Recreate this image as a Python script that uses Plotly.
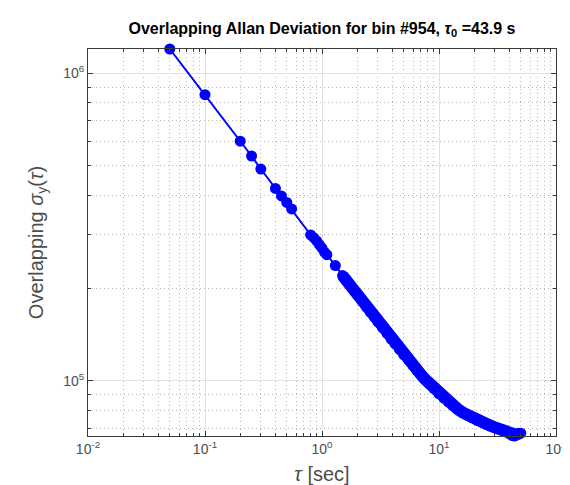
import plotly.graph_objects as go
import numpy as np

# tau values [sec] - individually visible markers
tau_sparse = [0.05, 0.1, 0.2, 0.25, 0.3, 0.4, 0.45, 0.5, 0.55,
              0.8, 0.85, 0.9, 0.95, 1.0, 1.05, 1.1, 1.3]
adev_sparse = [1.198e6, 8.51e5, 6.01e5, 5.38e5, 4.88e5, 4.22e5, 3.99e5, 3.80e5, 3.62e5,
               2.98e5, 2.92e5, 2.85e5, 2.77e5, 2.70e5, 2.62e5, 2.57e5, 2.37e5]

# dense region (markers overlap into a thick band)
tau_dense = [1.5, 1.6, 1.7, 1.8, 1.9, 2.0, 2.2, 2.4, 2.6, 2.8, 3.0, 3.3, 3.6, 3.9, 4.2,
             4.6, 5.0, 5.5, 6.0, 6.5, 7.0, 7.6, 8.2, 9.0, 10, 11, 12, 13, 14.5, 16,
             17.5, 19, 21, 23, 25, 27.5, 30, 33, 36, 39, 42, 44, 46, 48, 50]
adev_dense = [2.198e5, 2.128e5, 2.065e5, 2.007e5, 1.952e5, 1.903e5, 1.816e5, 1.738e5,
              1.669e5, 1.611e5, 1.556e5, 1.486e5, 1.426e5, 1.368e5, 1.321e5, 1.265e5,
              1.216e5, 1.167e5, 1.122e5, 1.081e5, 1.049e5, 1.012e5, 9.82e4, 9.46e4,
              9.08e4, 8.79e4, 8.55e4, 8.34e4, 8.09e4, 7.89e4, 7.73e4, 7.59e4, 7.45e4,
              7.35e4, 7.24e4, 7.15e4, 7.06e4, 6.97e4, 6.86e4, 6.77e4, 6.65e4, 6.62e4,
              6.67e4, 6.72e4, 6.76e4]

x_tickvals = [0.01, 0.1, 1, 10, 100]
x_ticktext = ["10<sup>-2</sup>", "10<sup>-1</sup>", "10<sup>0</sup>", "10<sup>1</sup>", "10<sup>2</sup>"]
y_tickvals = [1e5, 1e6]
y_ticktext = ["10<sup>5</sup>", "10<sup>6</sup>"]

title_text = "Overlapping Allan Deviation for bin #954, <i>τ</i><sub>0</sub> =43.9 s"
x_label = "<i>τ</i> [sec]"
y_label = "Overlapping <i>σ</i><sub>y</sub>(<i>τ</i>)"

tau_all = tau_sparse + tau_dense
adev_all = adev_sparse + adev_dense

# minor (2..9 x 10^k) log-axis ticks / grid positions
x_minor = [m * 10.0 ** e for e in range(-2, 2) for m in range(2, 10)]
y_minor = [m * 10.0 ** e for e in range(4, 7) for m in range(2, 10)]

BLUE = "rgb(0,0,255)"
FONT = "Liberation Sans, Arial, sans-serif"
AXC = "#3a3a3a"
TXT = "#4d4d4d"

fig = go.Figure()
fig.add_trace(go.Scatter(x=tau_dense, y=adev_dense, mode="lines",
                         line=dict(color=BLUE, width=12), cliponaxis=False,
                         hoverinfo="skip", showlegend=False))
fig.add_trace(go.Scatter(x=tau_all, y=adev_all, mode="lines+markers",
                         line=dict(color=BLUE, width=2),
                         marker=dict(color=BLUE, size=11, line=dict(width=0)),
                         cliponaxis=False, showlegend=False))

ymin = np.log10(min(adev_all))
ymax = np.log10(max(adev_all))


def axis_style(minor_vals):
    return dict(
        type="log", showline=True, linecolor=AXC, linewidth=1, mirror="ticks",
        ticks="inside", ticklen=5, tickcolor=AXC, tickwidth=1, tickmode="array",
        showgrid=True, gridcolor="#e1e1e1", gridwidth=1, zeroline=False,
        tickfont=dict(family=FONT, size=14, color=TXT),
        minor=dict(tickmode="array", tickvals=minor_vals, ticks="inside", ticklen=3,
                   tickcolor=AXC, showgrid=True, gridcolor="#b8b8b8",
                   griddash="1px,3px", gridwidth=1),
    )


fig.update_layout(
    width=570, height=485,
    margin=dict(l=80, r=11, t=41, b=56),
    paper_bgcolor="white", plot_bgcolor="white",
    font=dict(family=FONT, color="#262626"),
    title=dict(text=title_text, xref="paper", x=0.5, xanchor="center",
               y=0.958, yanchor="middle",
               font=dict(family=FONT, size=16, color="black", weight="bold")),
    xaxis=dict(axis_style(x_minor), range=[-2, 2], tickvals=x_tickvals, ticktext=x_ticktext,
               title=dict(text=x_label, font=dict(family=FONT, size=20, color=TXT),
                          standoff=11)),
    yaxis=dict(axis_style(y_minor), range=[ymin, ymax], tickvals=y_tickvals, ticktext=y_ticktext,
               title=dict(text=y_label, font=dict(family=FONT, size=20, color=TXT),
                          standoff=14)),
)

fig.write_html("out.html")
